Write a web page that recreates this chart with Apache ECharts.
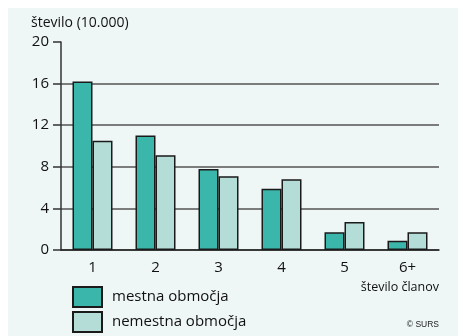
<!DOCTYPE html>
<html><head><meta charset="utf-8">
<script src="https://cdn.jsdelivr.net/npm/echarts@6/dist/echarts.min.js"></script>
<style>html,body{margin:0;padding:0;background:#fff}#c{width:458px;height:336px}</style>
</head><body><div id="c"></div>
<script>
const categories = ['1', '2', '3', '4', '5', '6+'];
const seriesNames = ['mestna območja', 'nemestna območja'];
const urban = [16.2, 11.0, 7.8, 5.9, 1.7, 0.9];
const rural = [10.5, 9.1, 7.1, 6.8, 2.7, 1.7];
const yTicks = [0, 4, 8, 12, 16, 20];

const font = 'Open Sans';
const legendBase = {
  orient: 'vertical', left: 72, itemWidth: 29, itemHeight: 20, padding: 0,
  icon: 'rect',
  textStyle: { fontFamily: font, fontSize: 15, color: '#111', padding: [0, 0, 0, 5] }
};
const chart = echarts.init(document.getElementById('c'));
chart.setOption({
  backgroundColor: '#ffffff',
  animation: false,
  textStyle: { fontFamily: font },
  graphic: [
    { type: 'rect', z: -10, silent: true, shape: { x: 8, y: 8, width: 450, height: 328 }, style: { fill: '#eef7f6' } }
  ],
  title: [
    { text: 'število (10.000)', left: 31, top: 16, padding: 0, textStyle: { fontFamily: font, fontSize: 14, fontWeight: 'normal', color: '#111' } },
    { text: 'število članov', right: 19, top: 281, padding: 0, textStyle: { fontFamily: font, fontSize: 12.5, fontWeight: 'normal', color: '#111' } },
    { text: '© SURS', right: 19, top: 320, padding: 0, textStyle: { fontFamily: 'Liberation Sans', fontSize: 8.5, fontWeight: 'normal', color: '#222' } }
  ],
  legend: [
    Object.assign({}, legendBase, { top: 286, data: [seriesNames[0]] }),
    Object.assign({}, legendBase, { top: 311, data: [seriesNames[1]] })
  ],
  grid: { left: 61, right: 19, top: 42, bottom: 86 },
  xAxis: {
    type: 'category', data: categories,
    axisLine: { lineStyle: { color: '#222', width: 1.5 } },
    axisTick: { show: false },
    axisLabel: { fontFamily: font, fontSize: 15, color: '#111', margin: 10 }
  },
  yAxis: {
    type: 'value', min: yTicks[0], max: yTicks[yTicks.length - 1], interval: 4,
    axisLine: { show: true, lineStyle: { color: '#333', width: 1.5 } },
    axisTick: { show: true, length: 8, lineStyle: { color: '#333', width: 1.5 } },
    axisLabel: { fontFamily: font, fontSize: 15, color: '#111', margin: 12 },
    splitLine: { show: true, showMaxLine: false, lineStyle: { color: '#555', width: 1.5 } }
  },
  series: [
    { name: seriesNames[0], type: 'bar', data: urban, barWidth: 20, barGap: '0%',
      itemStyle: { color: '#3bb6aa', borderColor: '#1a1a1a', borderWidth: 1.5 } },
    { name: seriesNames[1], type: 'bar', data: rural, barWidth: 20, barGap: '0%',
      itemStyle: { color: '#b3ddd6', borderColor: '#1a1a1a', borderWidth: 1.5 } }
  ]
});
</script></body></html>
